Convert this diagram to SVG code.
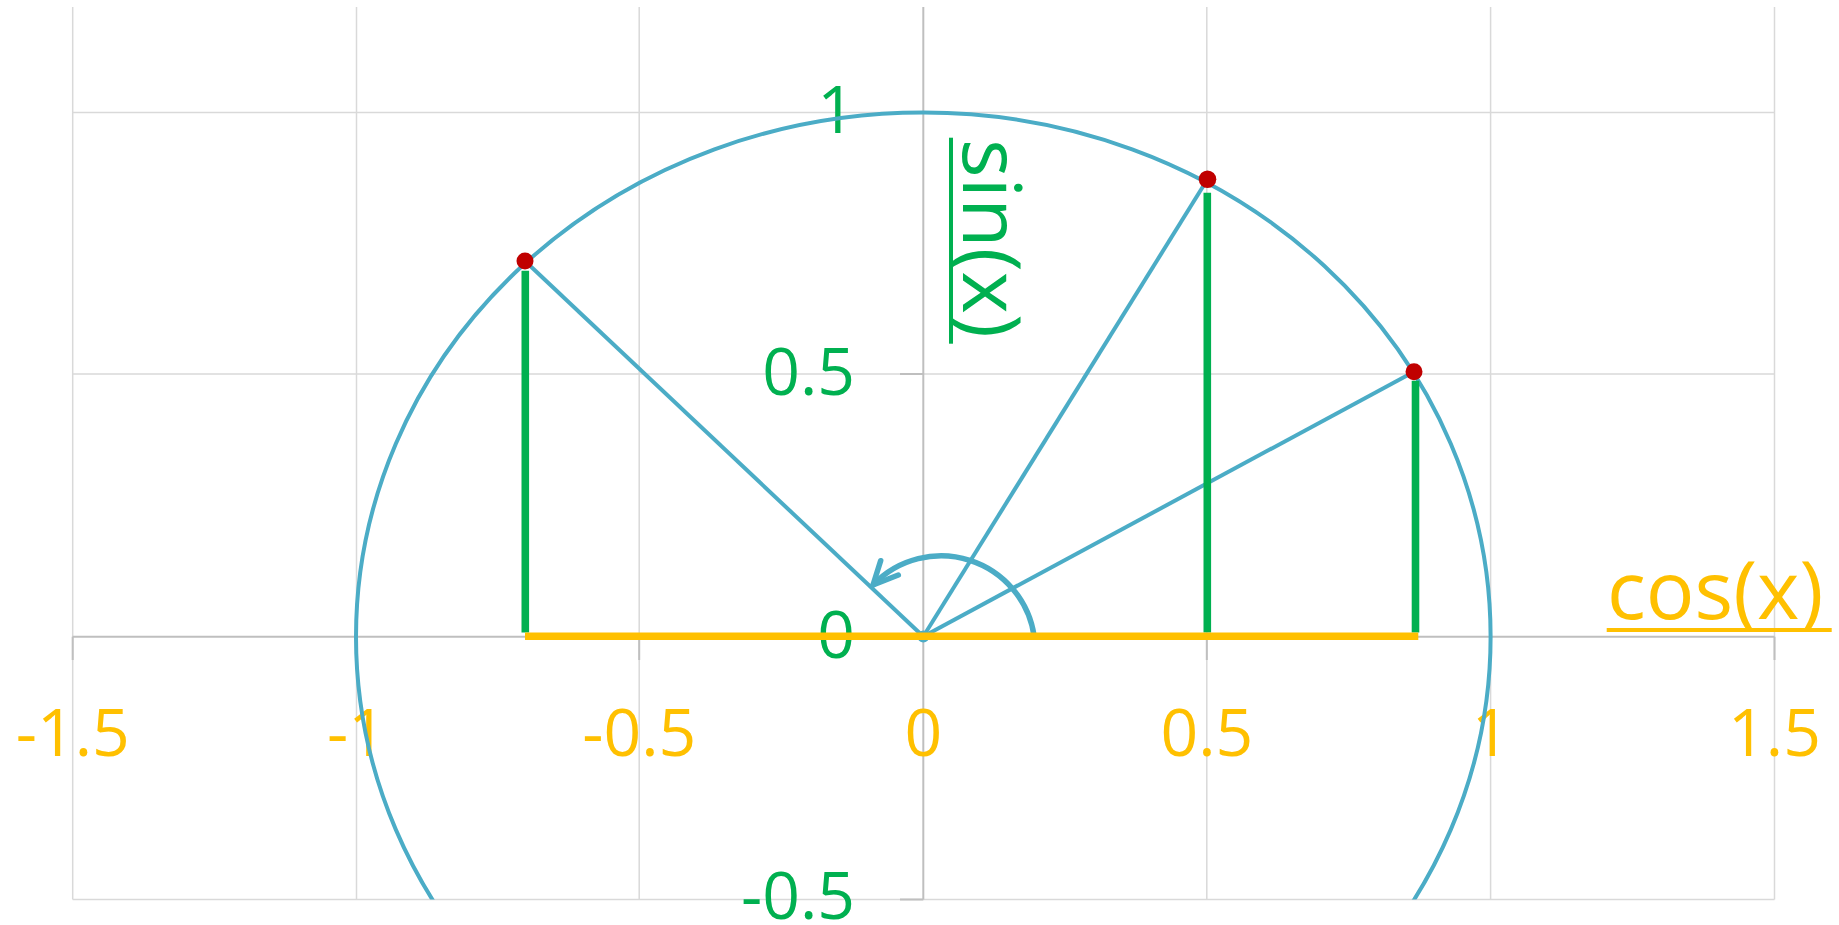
<svg xmlns="http://www.w3.org/2000/svg" width="1839" height="925" viewBox="0 0 1839 925">
<style>
.grid{stroke:#D9D9D9;stroke-width:1.5;fill:none}
.axis{stroke:#BFBFBF;stroke-width:2;fill:none}
.blue{stroke:#4BACC6;stroke-width:4;fill:none}
.arc{stroke:#4BACC6;stroke-width:5.5;fill:none;stroke-linecap:round;stroke-linejoin:round}
.proj{stroke:#00B050;stroke-width:7.6;fill:none}
.cosl{stroke:#FFC000;stroke-width:7.6;fill:none}
.pt{fill:#C00000}
.xl{font-family:"Open Sans","Liberation Sans",sans-serif;font-size:66px;fill:#FFC000;text-anchor:middle}
.yl{font-family:"Open Sans","Liberation Sans",sans-serif;font-size:66px;fill:#00B050;text-anchor:end}
.big{font-family:"Open Sans","Liberation Sans",sans-serif;font-size:81px}
</style>
<defs>
<clipPath id="plot"><rect x="0" y="7" width="1839" height="892.5"/></clipPath>
</defs>
<rect width="1839" height="925" fill="#FFFFFF"/>
<g id="grid" class="grid">
<line x1="72.7" y1="7" x2="72.7" y2="899.5"/>
<line x1="356.5" y1="7" x2="356.5" y2="899.5"/>
<line x1="639.2" y1="7" x2="639.2" y2="899.5"/>
<line x1="1206.8" y1="7" x2="1206.8" y2="899.5"/>
<line x1="1490.6" y1="7" x2="1490.6" y2="899.5"/>
<line x1="1774.5" y1="7" x2="1774.5" y2="899.5"/>
<line x1="72.7" y1="112.5" x2="1774.5" y2="112.5"/>
<line x1="72.7" y1="374" x2="1774.5" y2="374"/>
<line x1="72.7" y1="899.5" x2="1774.5" y2="899.5"/>
</g>
<g id="axes" class="axis">
<line x1="72.7" y1="636.7" x2="1774.5" y2="636.7"/>
<line x1="923.3" y1="7" x2="923.3" y2="899.5"/>
<line x1="72.7" y1="636.7" x2="72.7" y2="660"/>
<line x1="356.5" y1="636.7" x2="356.5" y2="660"/>
<line x1="639.2" y1="636.7" x2="639.2" y2="660"/>
<line x1="1206.8" y1="636.7" x2="1206.8" y2="660"/>
<line x1="1490.6" y1="636.7" x2="1490.6" y2="660"/>
<line x1="1774.5" y1="636.7" x2="1774.5" y2="660"/>
<line x1="900" y1="374" x2="923.3" y2="374"/>
<line x1="900" y1="899.5" x2="923.3" y2="899.5"/>
</g>
<g id="x-labels" class="xl">
<text x="72.7" y="755.5">-1.5</text>
<text x="356.5" y="755.5">-1</text>
<text x="639.2" y="755.5">-0.5</text>
<text x="923.3" y="755.5">0</text>
<text x="1206.8" y="755.5">0.5</text>
<text x="1490.6" y="755.5">1</text>
<text x="1774.5" y="755.5">1.5</text>
</g>
<g id="y-labels" class="yl">
<text x="855" y="133">1</text>
<text x="855" y="395">0.5</text>
<text x="855" y="657.5">0</text>
<text x="855" y="918.5">-0.5</text>
</g>
<g id="unit-circle">
<ellipse class="blue" cx="923.3" cy="636.7" rx="567.3" ry="524.2" clip-path="url(#plot)"/>
</g>
<g id="connectors">
<line class="blue" x1="923.3" y1="636.5" x2="525" y2="261"/>
<line class="blue" x1="923.3" y1="636.5" x2="1207.5" y2="179.3"/>
<line class="blue" x1="923.3" y1="636.5" x2="1414" y2="371.7"/>
<circle cx="923.3" cy="636.5" r="6" fill="#4BACC6"/>
<path class="arc" d="M1034.1,636 A94,94 0 0 0 873.5,584.5"/>
<path class="arc" d="M880.7,560.7 L873,585 L898.3,575"/>
<line class="proj" x1="525.3" y1="270.7" x2="525.3" y2="632.5"/>
<line class="proj" x1="1207.3" y1="192.7" x2="1207.3" y2="632.5"/>
<line class="proj" x1="1415.5" y1="380.7" x2="1415.5" y2="632.5"/>
<line class="cosl" x1="525" y1="636.3" x2="1418.3" y2="636.3"/>
</g>
<g id="points" class="pt">
<circle cx="525" cy="261" r="8.5"/>
<circle cx="1207.5" cy="179.3" r="8.8"/>
<circle cx="1414" cy="371.7" r="8.5"/>
</g>
<g id="cos-label">
<text class="big" x="1607" y="619" fill="#FFC000">cos(x)</text>
<line x1="1606.7" y1="630" x2="1831.7" y2="630" stroke="#FFC000" stroke-width="4"/>
</g>
<g id="sin-label">
<text class="big" transform="translate(963,139) rotate(90)" x="0" y="0" fill="#00B050">sin(x)</text>
<line x1="951" y1="137.7" x2="951" y2="343.7" stroke="#00B050" stroke-width="4"/>
</g>
</svg>
